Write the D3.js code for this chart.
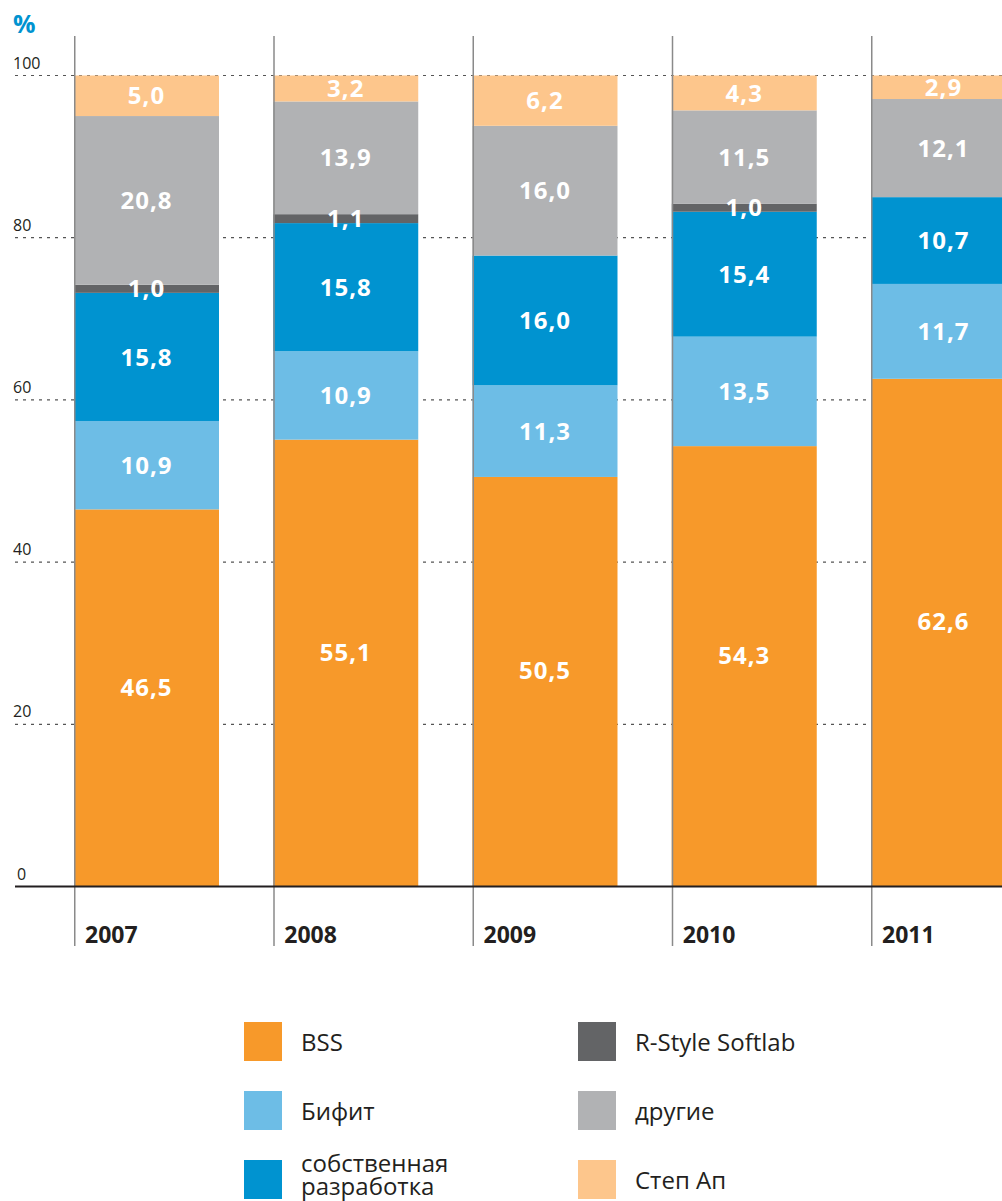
<!DOCTYPE html>
<html>
<head>
<meta charset="utf-8">
<script src="https://cdn.jsdelivr.net/npm/d3@7"></script>
<style>
  body { margin: 0; background: #fff; }
  svg { display: block; font-family: "Open Sans", sans-serif; }
</style>
</head>
<body>
<div id="chart"></div>
<script>
// values, %
const years = ["2007", "2008", "2009", "2010", "2011"];
const keys = ["bss", "bifit", "own", "rstyle", "other", "stepup"];
const names = ["BSS", "Бифит", "собственная разработка", "R-Style Softlab", "другие", "Степ Ап"];
const colors = ["#f7992a", "#6dbde6", "#0093d0", "#636466", "#b1b2b4", "#fdc68c"];

const bss    = [46.5, 55.1, 50.5, 54.3, 62.6];
const bifit  = [10.9, 10.9, 11.3, 13.5, 11.7];
const own    = [15.8, 15.8, 16.0, 15.4, 10.7];
const rstyle = [1.0, 1.1, 0, 1.0, 0];
const other  = [20.8, 13.9, 16.0, 11.5, 12.1];
const stepup = [5.0, 3.2, 6.2, 4.3, 2.9];

const yTicks = [0, 20, 40, 60, 80, 100];

const width = 1002, height = 1201;

const data = years.map(function(y, i) {
  return {year: y, bss: bss[i], bifit: bifit[i], own: own[i],
          rstyle: rstyle[i], other: other[i], stepup: stepup[i]};
});

const svg = d3.select("#chart").append("svg")
    .attr("width", width)
    .attr("height", height);

const x = d3.scaleBand()
    .domain(years)
    .range([74, 1016])
    .paddingInner(0.2723)
    .paddingOuter(0);

const y = d3.scaleLinear()
    .domain([0, 100])
    .range([886.5, 75.5]);

const color = d3.scaleOrdinal().domain(keys).range(colors);

// dotted grid
svg.append("g")
  .selectAll("line")
  .data(yTicks.filter(d => d > 0))
  .join("line")
    .attr("x1", 15)
    .attr("x2", width)
    .attr("y1", d => y(d))
    .attr("y2", d => y(d))
    .attr("stroke", "#555")
    .attr("stroke-width", 1.2)
    .attr("stroke-dasharray", "3,5");

// tick labels
svg.append("g")
  .selectAll("text")
  .data(yTicks)
  .join("text")
    .attr("x", d => d == 0 ? 17 : 13)
    .attr("y", d => y(d) - 7)
    .attr("font-size", 16)
    .attr("fill", "#231f20")
    .text(d => d);

svg.append("text")
    .attr("x", 13)
    .attr("y", 33)
    .attr("font-size", 25)
    .attr("font-weight", "bold")
    .attr("fill", "#0093d0")
    .text("%");

const stack = d3.stack().keys(keys);
const layers = stack(data);

const bars = svg.append("g")
  .selectAll("g")
  .data(layers)
  .join("g")
    .attr("fill", d => color(d.key));

bars.selectAll("rect")
  .data(d => d)
  .join("rect")
    .attr("x", d => x(d.data.year))
    .attr("width", x.bandwidth())
    .attr("y", d => y(d[1]))
    .attr("height", d => y(d[0]) - y(d[1]));

// vertical separators
svg.append("g")
  .selectAll("line")
  .data(years)
  .join("line")
    .attr("x1", d => x(d) + 0.75)
    .attr("x2", d => x(d) + 0.75)
    .attr("y1", 36)
    .attr("y2", 946)
    .attr("stroke", "#8a8a8a")
    .attr("stroke-width", 1.5);

// zero axis
svg.append("line")
    .attr("x1", 15)
    .attr("x2", width)
    .attr("y1", y(0))
    .attr("y2", y(0))
    .attr("stroke", "#231f20")
    .attr("stroke-width", 2.2);

// value labels
const fmt = d3.format(".1f");
layers.forEach(function(layer) {
  // bottom labels sit a bit above the middle in the original
  const shift = layer.key == "bss" ? -11 : 0;
  svg.append("g")
    .selectAll("text")
    .data(layer.filter(d => d[1] - d[0] > 0))
    .join("text")
      .attr("x", d => x(d.data.year) + x.bandwidth() / 2)
      .attr("y", d => (y(d[0]) + y(d[1])) / 2 + shift)
      .attr("dy", "0.36em")
      .attr("text-anchor", "middle")
      .attr("font-size", 24)
      .attr("font-weight", "bold")
      .attr("letter-spacing", 1)
      .attr("fill", "#fff")
      .text(d => fmt(d[1] - d[0]).replace(".", ","));
});

// year labels
svg.append("g")
  .selectAll("text")
  .data(years)
  .join("text")
    .attr("x", d => x(d) + 11)
    .attr("y", 943)
    .attr("font-size", 23)
    .attr("font-weight", "bold")
    .attr("fill", "#231f20")
    .text(d => d);

// legend
const legendOrder = [0, 1, 2, 3, 4, 5];
const legend = svg.append("g")
  .selectAll("g")
  .data(legendOrder)
  .join("g")
    .attr("transform", function(i) {
      const col = Math.floor(i / 3), row = i % 3;
      return "translate(" + (244 + col * 334) + "," + (1022 + row * 69) + ")";
    });

legend.append("rect")
    .attr("width", 38)
    .attr("height", 39)
    .attr("fill", i => colors[i]);

legend.each(function(i) {
  const g = d3.select(this);
  const words = i == 2 ? ["собственная", "разработка"] : [names[i]];
  const t = g.append("text")
      .attr("x", 57)
      .attr("font-size", 24)
      .attr("fill", "#231f20");
  words.forEach(function(w, j) {
    t.append("tspan")
      .attr("x", 57)
      .attr("y", words.length == 1 ? 20 : 3 + j * 23)
      .attr("dy", "0.36em")
      .text(w);
  });
});
</script>
</body>
</html>
